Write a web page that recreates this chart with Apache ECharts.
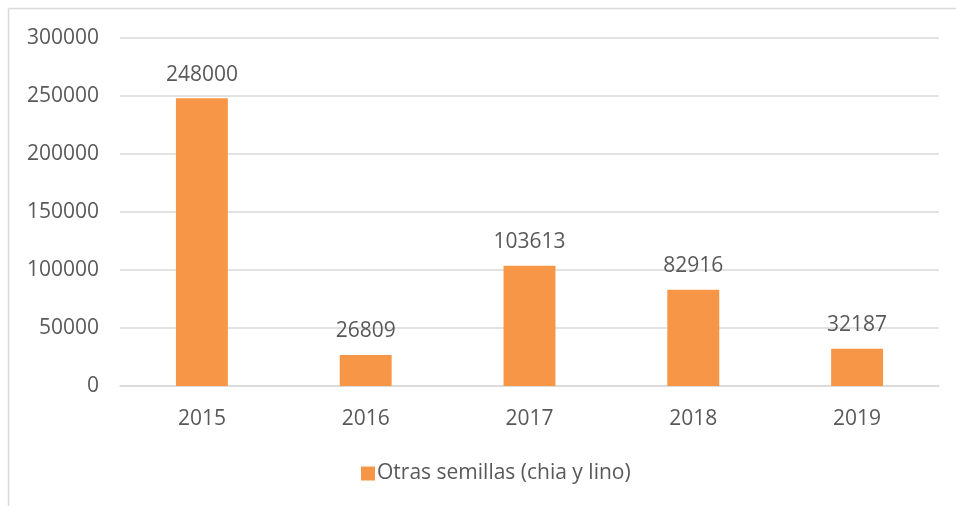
<!DOCTYPE html>
<html>
<head>
<meta charset="UTF-8">
<title>Otras semillas</title>
<script src="https://cdn.jsdelivr.net/npm/echarts@6/dist/echarts.min.js"></script>
<style>
  body { margin:0px; background:#fff; }
  #main { width:956px; height:506px; }
</style>
</head>
<body>
<div id="main"></div>
<script>
// 数据
var years = ['2015', '2016', '2017', '2018', '2019'];
var values = [248000, 26809, 103613, 82916, 32187];
var seriesName = 'Otras semillas (chia y lino)';

var textColor = '#595959';
var fontName = 'Open Sans';

var myChart = echarts.init(document.getElementById('main'));
var option = {
  animation: false,
  textStyle: { fontFamily: fontName },
  graphic: [
    { type: 'line', shape: { x1: 8.5, y1: 8.5, x2: 956, y2: 8.5 }, style: { stroke: '#d9d9d9', lineWidth: 1.5 } },
    { type: 'line', shape: { x1: 8.5, y1: 8.5, x2: 8.5, y2: 506 }, style: { stroke: '#d9d9d9', lineWidth: 1.5 } }
  ],
  grid: {
    left: 120,
    right: 17,
    top: 38,
    bottom: 120
  },
  legend: {
    left: 356,
    top: 458,
    itemWidth: 14,
    itemHeight: 14,
    itemGap: 10,
    textStyle: { color: textColor, fontSize: 21, fontFamily: fontName, padding: [0, 0, 0, -3] },
    icon: 'rect',
    data: [seriesName]
  },
  xAxis: {
    type: 'category',
    data: years,
    axisLine: { lineStyle: { color: '#d9d9d9', width: 1.5 } },
    axisTick: { show: false },
    axisLabel: { color: textColor, fontSize: 21, margin: 23, fontFamily: fontName }
  },
  yAxis: {
    type: 'value',
    min: 0,
    max: 300000,
    interval: 50000,
    axisLine: { show: false },
    axisTick: { show: false },
    splitLine: { lineStyle: { color: '#d9d9d9', width: 1.5 } },
    axisLabel: {
      color: textColor, fontSize: 21, margin: 21, fontFamily: fontName,
      formatter: function (v) { return String(v); }
    }
  },
  series: [{
    name: seriesName,
    type: 'bar',
    data: values,
    barWidth: '31.7%',
    itemStyle: { color: '#f79646' },
    label: {
      show: true,
      position: 'top',
      distance: 13,
      color: textColor,
      fontSize: 21,
      fontFamily: fontName
    }
  }]
};
myChart.setOption(option);
</script>
</body>
</html>
